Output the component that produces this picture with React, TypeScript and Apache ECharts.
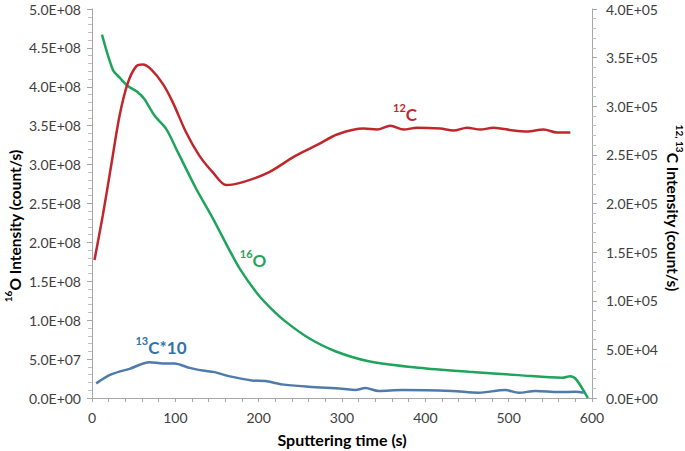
import React, { useEffect, useRef } from "react";
import * as echarts from "echarts";

// 16O (left axis)
const oTime = [12, 25, 33, 43, 55, 63, 75, 89, 103, 125, 145, 164, 178, 200, 215, 232, 260, 292, 332, 392, 452, 512, 564, 574, 581, 595];
const oValues = [4.67e8, 4.22e8, 4.12e8, 4.01e8, 3.93e8, 3.84e8, 3.63e8, 3.46e8, 3.16e8, 2.69e8, 2.31e8, 1.92e8, 1.65e8, 1.32e8, 1.15e8, 9.85e7, 7.71e7, 6.01e7, 4.73e7, 3.88e7, 3.36e7, 2.94e7, 2.6e7, 2.81e7, 2.39e7, 0];

// 12C (right axis)
const c12Time = [3, 13, 23, 33, 43, 53, 61, 71, 85, 97, 113, 129, 145, 161, 181, 212, 244, 272, 294, 326, 342, 358, 374, 390, 418, 434, 450, 466, 482, 506, 522, 542, 558, 574];
const c12Values = [1.42e5, 1.88e5, 2.39e5, 2.9e5, 3.24e5, 3.41e5, 3.43e5, 3.38e5, 3.23e5, 3.04e5, 2.73e5, 2.49e5, 2.32e5, 2.19e5, 2.22e5, 2.32e5, 2.49e5, 2.61e5, 2.71e5, 2.77e5, 2.76e5, 2.8e5, 2.76e5, 2.78e5, 2.77e5, 2.75e5, 2.78e5, 2.76e5, 2.78e5, 2.75e5, 2.74e5, 2.76e5, 2.73e5, 2.73e5];

// 13C*10 (right axis)
const c13Time = [5, 23, 45, 69, 85, 99, 117, 133, 147, 164, 192, 208, 228, 260, 300, 316, 328, 344, 372, 432, 464, 496, 512, 532, 560, 580, 590];
const c13Values = [1.5e4, 2.42e4, 3.0e4, 3.68e4, 3.55e4, 3.55e4, 3.1e4, 2.83e4, 2.66e4, 2.25e4, 1.81e4, 1.74e4, 1.4e4, 1.16e4, 9.5e3, 8.2e3, 1.02e4, 7.2e3, 8.2e3, 7.2e3, 5.4e3, 8.2e3, 5.4e3, 7.2e3, 6.1e3, 6.4e3, 5.4e3];

const xTitle = "Sputtering time (s)";

const RED = "#C0272D";
const GREEN = "#1EA55B";
const BLUE = "#4F7BAA";
const BLUE_LABEL = "#2F72AE";
const FONT = "Lato";

function sci(v: number): string {
  if (v === 0) return "0.0E+00";
  const e = Math.floor(Math.log10(Math.abs(v)) + 1e-9);
  const m = v / Math.pow(10, e);
  const es = (e < 0 ? "-" : "+") + String(Math.abs(e)).padStart(2, "0");
  return m.toFixed(1) + "E" + es;
}

function pairs(t: number[], v: number[]) {
  return t.map((x, i) => [x, v[i]]);
}

export default function App() {
  const ref = useRef<HTMLDivElement>(null);
  useEffect(() => {
    if (!ref.current) return;
    const chart = echarts.init(ref.current, null, { renderer: "svg" });
    const axisLine = { show: true, lineStyle: { color: "#A6A6A6", width: 1 } };
    const labelStyle = { color: "#404040", fontSize: 14, fontFamily: FONT };
    const supRich = (color: string, big: number, small: number) => ({
      s: { fontSize: small, fontWeight: "bold", fill: color, fontFamily: FONT, verticalAlign: "top", lineHeight: big + 4 },
      b: { fontSize: big, fontWeight: "bold", fill: color, fontFamily: FONT, verticalAlign: "bottom", lineHeight: big + 4 },
    });
    chart.setOption({
      animation: false,
      grid: { left: 92, right: 93, top: 9, bottom: 53, containLabel: false, outerBoundsMode: "none" },
      xAxis: {
        type: "value",
        min: 0,
        max: 600,
        interval: 100,
        name: xTitle,
        nameLocation: "middle",
        nameGap: 33,
        nameTextStyle: { fontSize: 16, fontWeight: "bold", color: "#000", fontFamily: FONT },
        axisLine,
        axisTick: { show: true, length: 4, lineStyle: { color: "#A6A6A6" } },
        minorTick: { show: true, splitNumber: 5, length: 4, lineStyle: { color: "#A6A6A6" } },
        axisLabel: { ...labelStyle, margin: 12 },
        splitLine: { show: false },
      },
      yAxis: [
        {
          type: "value",
          min: 0,
          max: 5e8,
          interval: 5e7,
          position: "left",
          axisLine,
          axisTick: { show: true, length: 5, lineStyle: { color: "#A6A6A6" } },
          minorTick: { show: true, splitNumber: 5, length: 4, lineStyle: { color: "#BFBFBF" } },
          axisLabel: { ...labelStyle, margin: 11, formatter: (v: number) => sci(v) },
          splitLine: { show: false },
        },
        {
          type: "value",
          min: 0,
          max: 4e5,
          interval: 5e4,
          position: "right",
          axisLine,
          axisTick: { show: true, length: 5, lineStyle: { color: "#A6A6A6" } },
          minorTick: { show: true, splitNumber: 5, length: 4, lineStyle: { color: "#BFBFBF" } },
          axisLabel: { ...labelStyle, margin: 14, formatter: (v: number) => sci(v) },
          splitLine: { show: false },
        },
      ],
      series: [
        {
          name: "16O",
          type: "line",
          yAxisIndex: 0,
          data: pairs(oTime, oValues),
          smooth: 0.3,
          showSymbol: false,
          lineStyle: { color: GREEN, width: 2.5 },
          itemStyle: { color: GREEN },
        },
        {
          name: "12C",
          type: "line",
          yAxisIndex: 1,
          data: pairs(c12Time, c12Values),
          smooth: 0.3,
          showSymbol: false,
          lineStyle: { color: RED, width: 2.5 },
          itemStyle: { color: RED },
        },
        {
          name: "13C*10",
          type: "line",
          yAxisIndex: 1,
          data: pairs(c13Time, c13Values),
          smooth: 0.3,
          showSymbol: false,
          lineStyle: { color: BLUE, width: 2.5 },
          itemStyle: { color: BLUE },
        },
      ],
      graphic: [
        {
          type: "text",
          x: 13,
          y: 226,
          rotation: Math.PI / 2,
          style: {
            text: "{s|16}{b|O Intensity (count/s)}",
            rich: supRich("#000", 15.5, 10),
            align: "center",
            verticalAlign: "middle",
          },
        },
        {
          type: "text",
          x: 675,
          y: 208,
          rotation: -Math.PI / 2,
          style: {
            text: "{s|12, 13}{b|C Intensity (count/s)}",
            rich: supRich("#000", 15.5, 10),
            align: "center",
            verticalAlign: "middle",
          },
        },
        {
          type: "text",
          x: 405,
          y: 112,
          style: {
            text: "{s|12}{b|C}",
            rich: supRich(RED, 17, 11),
            align: "center",
            verticalAlign: "middle",
          },
        },
        {
          type: "text",
          x: 253,
          y: 258,
          style: {
            text: "{s|16}{b|O}",
            rich: supRich(GREEN, 17, 11),
            align: "center",
            verticalAlign: "middle",
          },
        },
        {
          type: "text",
          x: 161,
          y: 345,
          style: {
            text: "{s|13}{b|C*10}",
            rich: supRich(BLUE_LABEL, 17, 11),
            align: "center",
            verticalAlign: "middle",
          },
        },
      ],
    });
    return () => chart.dispose();
  }, []);
  return <div ref={ref} style={{ width: 685, height: 451, position: "absolute", left: 0, top: 0 }} />;
}
